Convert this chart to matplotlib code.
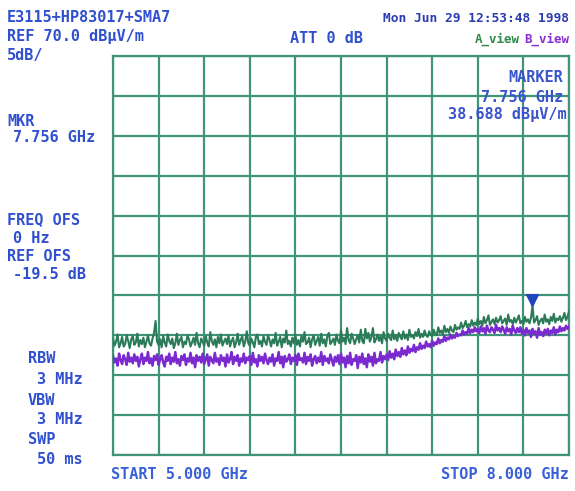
import numpy as np
import matplotlib
matplotlib.use('Agg')
import matplotlib.pyplot as plt
from matplotlib.path import Path

# sweep settings
f_start, f_stop, n_points = 5.0, 8.0, 301
ref_level, db_per_div = 70.0, 5.0
marker_freq, marker_level = 7.756, 38.688

# trace A (green), dBuV/m, 10 MHz per point
trace_a = [
    34.6, 33.7, 34.2, 35.1, 33.5, 34.0, 34.8, 33.6, 33.9, 35.0, 34.3, 33.4, 34.5, 34.9, 33.8,
    34.1, 35.2, 33.6, 34.4, 33.9, 34.7, 33.5, 34.2, 35.0, 34.0, 33.7, 34.6, 35.3, 36.8, 34.2,
    33.8, 34.5, 33.5, 34.9, 34.1, 33.6, 35.1, 34.3, 33.9, 34.6, 33.4, 34.0, 35.2, 33.8, 34.4,
    34.8, 33.5, 34.2, 33.9, 35.0, 34.5, 33.6, 34.1, 34.7, 33.8, 35.3, 34.0, 33.5, 34.6, 34.2,
    33.7, 34.9, 34.1, 33.6, 35.4, 34.3, 33.8, 34.5, 33.5, 34.8, 34.0, 35.1, 33.7, 34.2, 34.6,
    33.9, 35.0, 33.6, 34.3, 34.7, 33.5, 34.1, 35.2, 33.8, 34.4, 34.9, 33.6, 34.2, 35.5, 34.0,
    33.7, 34.6, 34.1, 33.5, 34.8, 35.1, 33.9, 34.3, 33.6, 34.9, 34.2, 33.8, 35.0, 34.4, 33.6,
    34.5, 34.0, 35.3, 33.7, 34.2, 34.8, 33.5, 34.6, 34.1, 35.6, 33.9, 34.3, 33.6, 34.7, 34.0,
    35.1, 33.8, 34.4, 33.6, 34.9, 34.2, 35.4, 33.9, 34.1, 34.7, 33.5, 34.5, 35.0, 33.8, 34.3,
    34.8, 33.7, 35.2, 34.0, 34.5, 33.6, 34.9, 35.3, 33.9, 34.2, 34.6, 33.8, 35.1, 34.3, 34.0,
    35.6, 34.2, 34.7, 33.9, 35.9, 34.4, 34.0, 35.2, 34.6, 33.9, 34.5, 35.0, 34.1, 35.7, 34.3,
    34.0, 35.8, 34.6, 35.3, 34.2, 34.8, 35.9, 34.1, 34.5, 35.1, 34.3, 34.9, 34.0, 35.4, 34.6,
    34.3, 35.2, 34.7, 34.4, 35.6, 34.5, 35.0, 34.3, 35.3, 34.8, 34.5, 35.5, 34.6, 35.1, 34.4,
    35.7, 34.8, 35.0, 34.6, 35.4, 34.9, 35.8, 34.7, 35.2, 34.8, 35.6, 35.0, 34.8, 35.5, 35.1,
    34.9, 35.7, 35.2, 35.0, 36.0, 35.3, 35.6, 35.1, 36.2, 35.4, 35.8, 35.3, 36.1, 35.6, 35.4,
    36.3, 35.7, 36.0, 35.8, 36.6, 35.9, 36.2, 36.8, 36.0, 36.4, 36.1, 36.9, 36.2, 36.6, 36.3,
    37.1, 36.4, 36.8, 36.2, 37.3, 36.5, 36.9, 37.5, 36.3, 36.7, 37.0, 36.4, 37.2, 36.6, 36.9,
    37.4, 36.5, 36.8, 37.1, 36.3, 37.6, 36.7, 36.9, 36.4, 37.2, 36.6, 37.0, 37.5, 36.5, 36.8,
    36.4, 37.3, 36.7, 37.0, 36.5, 37.2, 38.7, 36.6, 36.9, 37.4, 36.3, 36.8, 37.1, 36.5, 37.6,
    36.7, 37.0, 36.4, 37.3, 36.8, 37.7, 36.6, 37.1, 36.9, 37.4, 36.7, 37.2, 37.8, 36.9, 37.3,
    38.0,
]

# trace B (purple), dBuV/m
trace_b = [
    32.4, 31.6, 32.1, 31.2, 32.7, 31.9, 31.4, 32.5, 32.0, 31.3, 32.8, 31.7, 32.2, 31.5, 32.6,
    31.8, 32.3, 31.1, 32.0, 32.7, 31.4, 32.2, 31.8, 32.9, 31.5, 32.1, 31.2, 32.4, 31.9, 32.6,
    31.3, 32.0, 32.5, 31.6, 31.1, 32.3, 31.8, 32.7, 31.4, 32.2, 31.7, 32.9, 31.5, 32.0, 31.2,
    32.4, 31.9, 32.6, 31.3, 32.1, 31.7, 32.8, 31.5, 32.2, 31.0, 32.5, 31.8, 32.3, 31.6, 32.7,
    31.4, 32.0, 32.6, 31.2, 32.3, 31.9, 31.5, 32.8, 31.7, 32.1, 31.3, 32.5, 31.8, 32.2, 31.1,
    32.6, 31.6, 32.0, 32.9, 31.4, 32.3, 31.8, 32.5, 31.2, 32.1, 31.7, 32.7, 31.5, 32.2, 31.9,
    32.4, 31.3, 32.8, 31.6, 32.0, 31.1, 32.5, 31.8, 32.3, 31.5, 32.7, 31.9, 31.4, 32.2, 31.7,
    32.6, 31.2, 32.1, 31.8, 32.9, 31.5, 32.3, 31.0, 32.4, 31.7, 32.0, 32.6, 31.4, 32.2, 31.8,
    32.5, 31.3, 32.7, 31.9, 32.1, 31.6, 32.8, 31.4, 32.3, 31.8, 32.6, 31.2, 32.0, 32.4, 31.5,
    32.2, 31.7, 32.9, 31.3, 32.4, 31.8, 32.1, 31.5, 32.6, 31.9, 31.2, 32.3, 31.7, 32.5, 31.4,
    32.7, 31.6, 32.2, 31.0, 32.4, 31.5, 32.8, 31.3, 32.0, 31.8, 32.5, 30.9, 32.3, 31.6, 32.7,
    31.4, 32.1, 31.0, 32.6, 31.7, 32.3, 31.2, 32.8, 31.5, 32.0, 31.8, 32.9, 31.6, 32.4, 32.0,
    32.6, 31.9, 33.0, 32.2, 32.7, 32.0, 33.2, 32.4, 32.9, 32.3, 33.4, 32.6, 33.1, 32.5, 33.6,
    32.8, 33.3, 33.0, 33.8, 32.9, 33.5, 33.2, 34.0, 33.3, 33.7, 33.4, 34.2, 33.6, 33.9, 33.5,
    34.3, 33.7, 34.1, 33.9, 34.6, 34.0, 34.4, 34.2, 34.9, 34.3, 34.7, 34.5, 35.1, 34.6, 34.9,
    34.7, 35.3, 34.9, 35.1, 35.0, 35.6, 35.1, 35.4, 35.2, 35.9, 35.3, 35.7, 35.4, 36.0, 35.5,
    35.8, 35.3, 36.1, 35.5, 35.9, 35.2, 36.2, 35.6, 35.4, 36.0, 35.7, 35.3, 36.3, 35.6, 35.9,
    35.4, 36.1, 35.7, 35.2, 36.0, 35.5, 35.8, 35.1, 36.2, 35.6, 35.3, 35.9, 35.4, 36.0, 35.2,
    35.7, 35.0, 35.9, 35.3, 35.6, 34.8, 35.8, 35.2, 35.5, 34.7, 35.9, 35.1, 35.4, 34.9, 35.7,
    35.2, 35.8, 35.0, 35.6, 35.3, 36.0, 35.1, 35.7, 35.4, 36.1, 35.5, 35.9, 35.6, 36.2, 35.8,
    36.1,
]

freqs = np.linspace(f_start, f_stop, n_points)

W, H = 575, 491
grid_c = '#3f9478'
blue = '#3050d0'
navy = '#2a3cb0'
green = '#2b7a58'
purple = '#7b2ad0'

fig = plt.figure(figsize=(W / 100, H / 100), dpi=100)
fig.patch.set_facecolor('white')

ax = fig.add_axes([113 / W, 1 - 455 / H, 456 / W, 399 / H])
ax.set_xlim(f_start, f_stop)
ax.set_ylim(ref_level - 10 * db_per_div, ref_level)
ax.set_xticks(np.linspace(f_start, f_stop, 11))
ax.set_yticks(np.arange(ref_level - 10 * db_per_div, ref_level + 0.1, db_per_div))
ax.tick_params(length=0, labelbottom=False, labelleft=False)
ax.grid(True, color=grid_c, lw=1.6)
for s in ax.spines.values():
    s.set_color(grid_c)
    s.set_linewidth(1.6)

ax.plot(freqs, trace_a, color=green, lw=1.5, zorder=3)
ax.plot(freqs, trace_b, color=purple, lw=1.8, zorder=4)

# marker triangle, tip sitting on the marker level
tri = Path([(-1, 2), (1, 2), (0, 0), (-1, 2)],
           [Path.MOVETO, Path.LINETO, Path.LINETO, Path.CLOSEPOLY])
ax.plot([marker_freq], [marker_level], marker=tri, ms=17, color='#2244c0',
        ls='none', zorder=5, clip_on=False)

font = dict(family='DejaVu Sans Mono', weight='bold')


def label(x, y, s, size=11, color=blue, ha='left'):
    fig.text(x / W, 1 - y / H, s, fontsize=size, color=color, ha=ha, va='top', **font)


# header
label(7, 10, 'E3115+HP83017+SMA7')
label(7, 29, 'REF %.1f dB\u00b5V/m' % ref_level)
label(7, 48, '%ddB/' % db_per_div)
label(290, 31, 'ATT 0 dB')
label(569, 12, 'Mon Jun 29 12:53:48 1998', size=9.3, color=navy, ha='right')
label(520, 33, 'A_view', size=9, color='#2e8a4a', ha='right')
label(569, 33, 'B_view', size=9, color='#8a2fd0', ha='right')

# marker readout
label(563, 70, 'MARKER', color='#3a55cc', ha='right')
label(563, 90, '%.3f GHz' % marker_freq, color='#3a55cc', ha='right')
label(567, 107, '%.3f dB\u00b5V/m' % marker_level, color='#3a55cc', ha='right')

# left side settings
label(7, 114, 'MKR')
label(13, 130, '%.3f GHz' % marker_freq)
label(7, 212, 'FREQ OFS')
label(13, 231, '0 Hz')
label(7, 249, 'REF OFS')
label(13, 267, '-19.5 dB')
label(28, 351, 'RBW')
label(37, 372, '3 MHz')
label(28, 393, 'VBW')
label(37, 412, '3 MHz')
label(28, 432, 'SWP')
label(37, 452, '50 ms')

# footer
label(111, 467, 'START %.3f GHz' % f_start, color='#3a60d8')
label(569, 467, 'STOP %.3f GHz' % f_stop, color='#3a60d8', ha='right')

fig.savefig('out.png', dpi=100)
